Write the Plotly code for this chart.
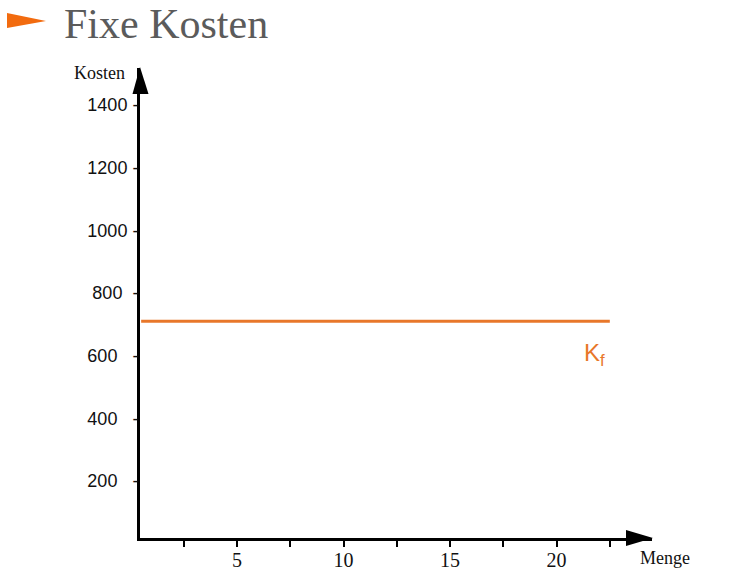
import plotly.graph_objects as go

# ---- data ----
menge_range = [0.5, 22.5]          # quantity span of the fixed-cost line
fixkosten = [710, 710]             # fixed costs (constant)
y_tickvals = [200, 400, 600, 800, 1000, 1200, 1400]
y_ticktext = ["200\u00a0\u00a0\u00a0-", "400\u00a0\u00a0\u00a0-", "600\u00a0\u00a0\u00a0-",
              "800\u00a0\u00a0-", "1000 -", "1200 -", "1400 -"]
x_tickvals = [5, 10, 15, 20]
x_ticktext = ["5", "10", "15", "20"]
x_minor_step = 2.5

W, H = 750, 575
L, R, T, B = 140, 98, 68, 37
PW, PH = W - L - R, H - T - B

def px(x):
    return (x - L) / PW

def py(y):
    return (H - B - y) / PH

ORANGE = "#E8772A"

fig = go.Figure()
fig.add_trace(go.Scatter(x=menge_range, y=fixkosten, mode="lines",
                         line=dict(color=ORANGE, width=3), hoverinfo="skip",
                         showlegend=False))

fig.update_layout(
    width=W, height=H,
    margin=dict(l=L, r=R, t=T, b=B, pad=0, autoexpand=False),
    paper_bgcolor="white", plot_bgcolor="white",
    showlegend=False,
    xaxis=dict(range=[0.446, 24.48], showgrid=False, zeroline=False,
               automargin=False,
               showline=True, linecolor="black", linewidth=3,
               tickvals=x_tickvals, ticktext=x_ticktext,
               ticks="outside", ticklen=6, tickwidth=2, tickcolor="black",
               ticklabelstandoff=-4,
               minor=dict(tick0=0, dtick=x_minor_step, ticks="outside", ticklen=6,
                          tickwidth=2, tickcolor="black", showgrid=False),
               tickfont=dict(family="Liberation Serif", size=20, color="#111"),
               fixedrange=True),
    yaxis=dict(range=[18, 1518], showgrid=False, zeroline=False,
               automargin=False,
               showline=True, linecolor="black", linewidth=3,
               tickvals=y_tickvals, ticktext=y_ticktext, ticks="",
               ticklabelstandoff=-5,
               tickfont=dict(family="Liberation Sans", size=18, color="#111"),
               fixedrange=True),
)

shapes = [
    # y axis arrow head
    dict(type="path", xref="paper", yref="paper",
         path=f"M {px(132.5)} {py(94)} L {px(140)} {py(67)} L {px(148.5)} {py(94)} Z",
         fillcolor="black", line=dict(width=0)),
    # x axis arrow head
    dict(type="path", xref="paper", yref="paper",
         path=f"M {px(626)} {py(530)} L {px(653)} {py(538)} L {px(626)} {py(546)} Z",
         fillcolor="black", line=dict(width=0)),
    # title marker
    dict(type="path", xref="paper", yref="paper",
         path=f"M {px(7)} {py(13)} L {px(46)} {py(21)} L {px(7)} {py(28)} Z",
         fillcolor="#F26B0F", line=dict(width=0)),
]
fig.update_layout(shapes=shapes)

annotations = [
    dict(text="Fixe Kosten", xref="paper", yref="paper", x=px(63), y=py(0),
         xanchor="left", yanchor="top", showarrow=False, borderpad=0,
         font=dict(family="Liberation Serif", size=42, color="#5B5B5B")),
    dict(text="Kosten", xref="paper", yref="paper", x=px(99), y=py(73),
         xanchor="center", yanchor="middle", showarrow=False,
         font=dict(family="Liberation Serif", size=18, color="#111")),
    dict(text="Menge", xref="paper", yref="paper", x=px(665), y=py(558),
         xanchor="center", yanchor="middle", showarrow=False,
         font=dict(family="Liberation Serif", size=18, color="#111")),
    dict(text="K<sub>f</sub>", xref="x", yref="y", x=21.8, y=605,
         xanchor="center", yanchor="middle", showarrow=False,
         font=dict(family="Liberation Sans", size=24, color=ORANGE)),
]
fig.update_layout(annotations=annotations)

post = (
    "var st='margin:0;padding:0;width:750px;height:575px;overflow:hidden;';"
    "document.documentElement.style.cssText=st;"
    "document.body.style.cssText=st;"
)

fig.write_html(
    "out.html",
    config={"responsive": False, "displayModeBar": False},
    post_script=post,
)
